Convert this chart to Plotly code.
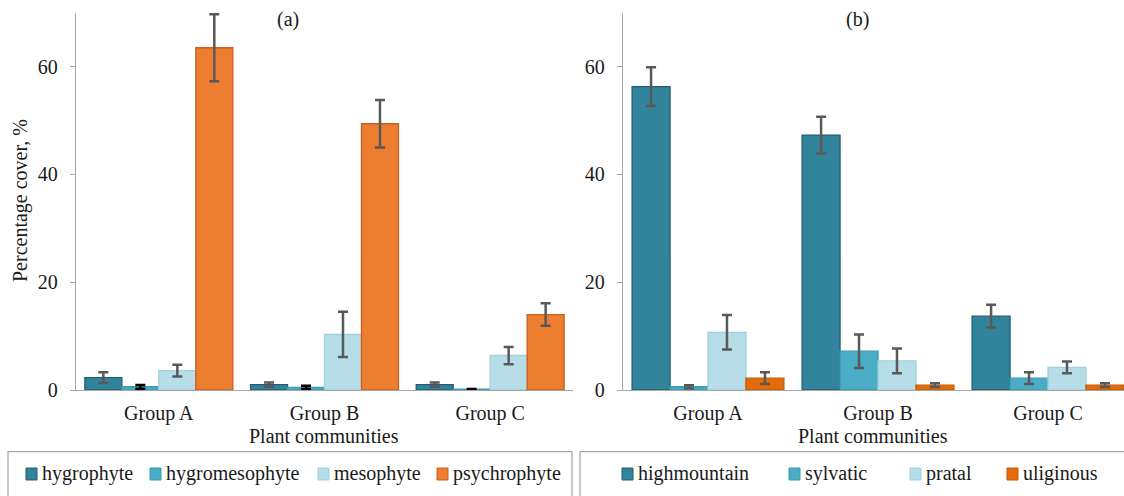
import plotly.graph_objects as go

# ---- data -------------------------------------------------------------
groups = ["Group A", "Group B", "Group C"]

# (a) ecological groups by moisture regime, mean cover and error
moisture_names = ["hygrophyte", "hygromesophyte", "mesophyte", "psychrophyte"]
hygrophyte = [2.3, 1.0, 1.0]
hygrophyte_err = [1.0, 0.4, 0.4]
hygromesophyte = [0.6, 0.5, 0.15]
hygromesophyte_err = [0.35, 0.3, 0.05]
mesophyte = [3.6, 10.3, 6.4]
mesophyte_err = [1.1, 4.2, 1.6]
psychrophyte = [63.5, 49.4, 14.0]
psychrophyte_err = [6.2, 4.4, 2.1]

# (b) coenotic groups, mean cover and error
coenotic_names = ["highmountain", "sylvatic", "pratal", "uliginous"]
highmountain = [56.3, 47.3, 13.7]
highmountain_err = [3.6, 3.4, 2.1]
sylvatic = [0.6, 7.2, 2.2]
sylvatic_err = [0.3, 3.1, 1.1]
pratal = [10.7, 5.4, 4.2]
pratal_err = [3.2, 2.3, 1.1]
uliginous = [2.2, 0.9, 0.9]
uliginous_err = [1.1, 0.35, 0.35]

y_ticks = [0, 20, 40, 60]

# ---- styling ------------------------------------------------------------
W, H = 1124, 496
FONT = "Liberation Serif"
TXT = "#1a1a1a"
AXIS = "#a6a6a6"
ERR = "#595959"

fills_a = ["#31849b", "#4bacc6", "#b7dee8", "#ed7d31"]
lines_a = ["#215f70", "#3c9ab3", "#9fd0de", "#c8601c"]
fills_b = ["#31849b", "#4bacc6", "#b7dee8", "#e36c09"]
lines_b = ["#215f70", "#3c9ab3", "#9fd0de", "#c45a06"]
err_colors_a = [ERR, "#000000", ERR, ERR]
err_colors_b = [ERR, ERR, ERR, ERR]


def px(x):
    return x / W


def py(y):
    return 1 - y / H


fig = go.Figure()

series_a = [(hygrophyte, hygrophyte_err), (hygromesophyte, hygromesophyte_err),
            (mesophyte, mesophyte_err), (psychrophyte, psychrophyte_err)]
series_b = [(highmountain, highmountain_err), (sylvatic, sylvatic_err),
            (pratal, pratal_err), (uliginous, uliginous_err)]

for name, (vals, errs), fc, lc, ec in zip(moisture_names, series_a, fills_a, lines_a, err_colors_a):
    fig.add_trace(go.Bar(
        x=groups, y=vals, name=name, xaxis="x", yaxis="y",
        marker=dict(color=fc, line=dict(color=lc, width=1.3)),
        error_y=dict(type="data", array=errs, visible=True,
                     color=ec, thickness=2.5, width=5),
        showlegend=False,
    ))

for name, (vals, errs), fc, lc, ec in zip(coenotic_names, series_b, fills_b, lines_b, err_colors_b):
    fig.add_trace(go.Bar(
        x=groups, y=vals, name=name, xaxis="x2", yaxis="y2",
        marker=dict(color=fc, line=dict(color=lc, width=1.3)),
        error_y=dict(type="data", array=errs, visible=True,
                     color=ec, thickness=2.5, width=5),
        showlegend=False,
    ))

# ---- axes ---------------------------------------------------------------
y_dom = [py(390), py(12.7)]
xcommon = dict(showline=True, linecolor=AXIS, linewidth=1.3, ticks="",
               showgrid=False, zeroline=False, automargin=False,
               tickfont=dict(family=FONT, size=20, color=TXT),
               ticklabelstandoff=5, fixedrange=True)
ycommon = dict(range=[0, 70], tickvals=y_ticks, showline=True, linecolor=AXIS,
               linewidth=1.3, ticks="outside", ticklen=5, tickcolor=AXIS,
               tickwidth=1.3, showgrid=False, zeroline=False, automargin=False,
               tickfont=dict(family=FONT, size=20, color=TXT),
               ticklabelstandoff=8, fixedrange=True)

fig.update_layout(
    xaxis=dict(domain=[px(76), px(573)], anchor="y", range=[-0.5, 2.5], **xcommon),
    yaxis=dict(domain=y_dom, anchor="x", **ycommon),
    xaxis2=dict(domain=[px(623), 1.0], anchor="y2", range=[-0.5, 2.447], **xcommon),
    yaxis2=dict(domain=y_dom, anchor="x2", **ycommon),
)

# ---- text ---------------------------------------------------------------
annotations = [
    dict(text="(a)", x=px(288), y=py(20)),
    dict(text="(b)", x=px(857), y=py(20)),
    dict(text="Plant communities", x=px(324), y=py(436)),
    dict(text="Plant communities", x=px(873), y=py(436)),
    dict(text="Percentage cover, %", x=px(20), y=py(201), textangle=-90),
]
for a in annotations:
    a.update(xref="paper", yref="paper", showarrow=False,
             xanchor="center", yanchor="middle",
             font=dict(family=FONT, size=20, color=TXT))

# ---- legends (boxed rows below each panel) -------------------------------
shapes = [
    dict(type="rect", xref="paper", yref="paper",
         x0=px(8), x1=px(572), y0=py(451.7), y1=py(510),
         line=dict(color=AXIS, width=1.2), fillcolor="rgba(0,0,0,0)"),
    dict(type="rect", xref="paper", yref="paper",
         x0=px(580), x1=px(1140), y0=py(451.7), y1=py(510),
         line=dict(color=AXIS, width=1.2), fillcolor="rgba(0,0,0,0)"),
]

legend_y = 474
legend_a_x = [26, 150, 318, 437]
legend_b_x = [622, 789, 910, 1007]
for names, xs, fills, lines in [(moisture_names, legend_a_x, fills_a, lines_a),
                                 (coenotic_names, legend_b_x, fills_b, lines_b)]:
    for name, x0, fc, lc in zip(names, xs, fills, lines):
        shapes.append(dict(type="rect", xref="paper", yref="paper",
                           x0=px(x0), x1=px(x0 + 11),
                           y0=py(legend_y + 6), y1=py(legend_y - 6),
                           fillcolor=fc, line=dict(color=lc, width=1)))
        annotations.append(dict(text=name, xref="paper", yref="paper",
                                x=px(x0 + 14), y=py(legend_y - 1),
                                xanchor="left", yanchor="middle", showarrow=False,
                                font=dict(family=FONT, size=20, color=TXT)))

fig.update_layout(
    width=W, height=H,
    margin=dict(l=0, r=0, t=0, b=0, pad=0),
    paper_bgcolor="white", plot_bgcolor="white",
    template="none",
    barmode="group", bargap=0.107, bargroupgap=0,
    showlegend=False,
    annotations=annotations,
    shapes=shapes,
    font=dict(family=FONT, size=20, color=TXT),
)

fig.write_html("out.html")
